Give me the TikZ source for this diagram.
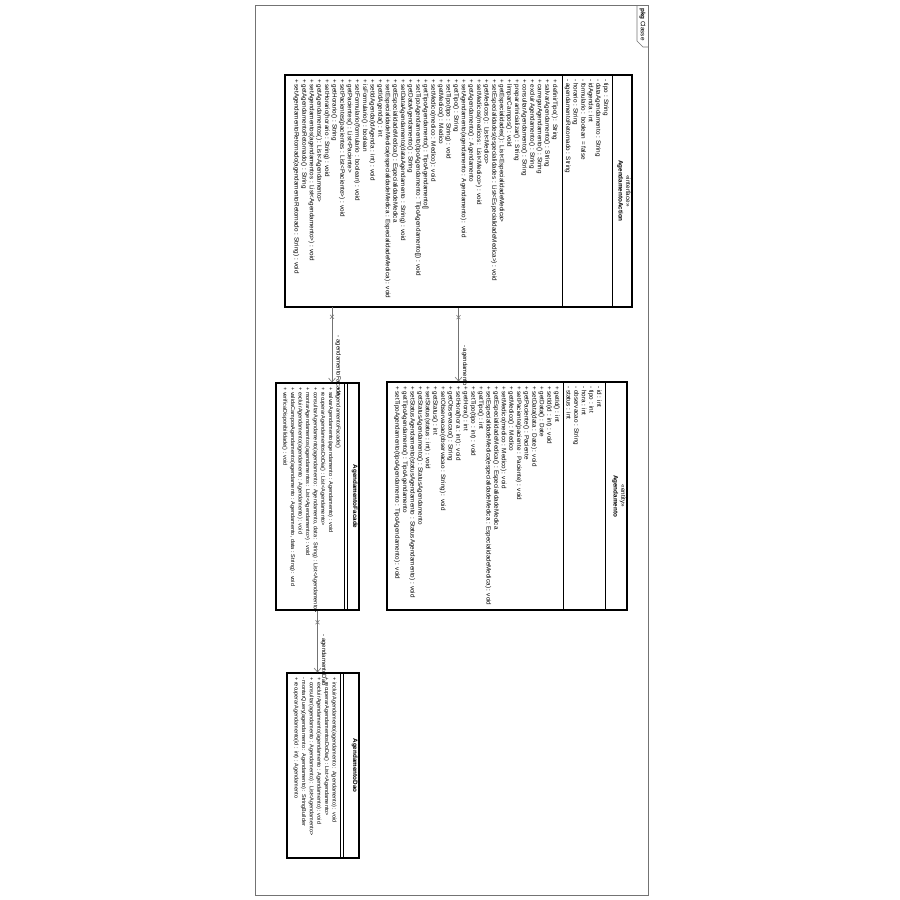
\documentclass[tikz,border=0pt]{standalone}
\usepackage{fontspec}
\setmainfont{Liberation Sans}
\usepackage{tikz}
\usetikzlibrary{positioning,arrows.meta,shapes.misc}
\tikzset{every picture/.style={line width=0.75pt}}
\tikzset{
  classbox/.style={draw, line width=1.1pt, inner sep=0pt},
  txt/.style={align=left, inner sep=1pt, anchor=north west, font=\fontsize{6.3}{7.6}\selectfont},
  txtsmall/.style={txt, font=\fontsize{5.5}{7.6}\selectfont},
  head/.style={align=center, inner sep=1.5pt, anchor=north, font=\fontsize{6.3}{7.6}\selectfont},
  assoc/.style={draw=black!55, line width=0.6pt, -{Straight Barb[length=4pt,width=7pt]}},
  xmark/.style={cross out, draw=black!55, line width=0.5pt, minimum size=3.5pt, inner sep=0pt},
  lbl/.style={anchor=south, inner sep=3pt, font=\fontsize{6}{7}\selectfont},
  frame/.style={draw=black!55, line width=0.6pt}
}

\begin{document}
\begin{tikzpicture}
\begin{scope}[x=1pt, y=1pt, rotate=-90, transform shape]
\useasboundingbox (0,0) rectangle (900,900);
% package frame
\draw[frame] (5,255) rectangle (895,648);
\draw[frame] (5,637) -- (41,637) -- (47,643) -- (47,648);
\node[anchor=west, inner sep=1pt, font=\fontsize{6.3}{7}\selectfont] (pkg) at (7,642.5) {\textbf{pkg} Classe};
%
\node[classbox, minimum width=232pt, minimum height=347pt] (action) at (191,458.5) {};
\node[classbox, minimum width=228pt, minimum height=240pt] (agendamento) at (496,507) {};
\node[classbox, minimum width=227pt, minimum height=83pt] (facade) at (496.5,317.5) {};
\node[classbox, minimum width=185pt, minimum height=72pt] (dao) at (765.5,323) {};
%
\foreach \Left/\Right/\Y in {75/307/612, 75/307/562, 382/610/605, 382/610/563,
    383/610/347, 383/610/344, 673/858/343, 673/858/340}
\draw (\Left,\Y) -- (\Right,\Y);
%
\node[head] (actiontitle) at (action.north) {«interface»\\\textbf{AgendamentoAction}};
\node[txt] (actionattr) at (78,610) {- tipo : String\\
- dataAgendamento : String\\
- idAgenda : int\\
- formulario : boolean = false\\
- horario : String\\
- agendamentoRetornado : String};
\node[txt] (actionops) at (78,559) {+ definirTipo() : String\\
+ salvarAgendamento() : String\\
+ carregarAgendamento() : String\\
+ excluirAgendamento() : String\\
+ consultarAgendamento() : String\\
+ prepararInicializar() : String\\
+ limparCampos() : void\\
+ getEspecialidades() : List<EspecialidadeMedica>\\
+ setEspecialidades(especialidades : List<EspecialidadeMedica>) : void\\
+ getMedicos() : List<Medico>\\
+ setMedicos(medicos : List<Medico>) : void\\
+ getAgendamento() : Agendamento\\
+ setAgendamento(agendamento : Agendamento) : void\\
+ getTipo() : String\\
+ setTipo(tipo : String) : void\\
+ getMedico() : Medico\\
+ setMedico(medico : Medico) : void\\
+ getTipoAgendamento() : TipoAgendamento[]\\
+ setTipoAgendamento(tipoAgendamento : TipoAgendamento[]) : void\\
+ getDataAgendamento() : String\\
+ setDataAgendamento(dataAgendamento : String) : void\\
+ getEspecialidadeMedica() : EspecialidadeMedica\\
+ setEspecialidadeMedica(especialidadeMedica : EspecialidadeMedica) : void\\
+ getIdAgenda() : int\\
+ setIdAgenda(idAgenda : int) : void\\
+ isFormulario() : boolean\\
+ setFormulario(formulario : boolean) : void\\
+ getPacientes() : List<Paciente>\\
+ setPacientes(pacientes : List<Paciente>) : void\\
+ getHorario() : String\\
+ setHorario(horario : String) : void\\
+ getAgendamentos() : List<Agendamento>\\
+ setAgendamentos(agendamentos : List<Agendamento>) : void\\
+ getAgendamentoRetornado() : String\\
+ setAgendamentoRetornado(agendamentoRetornado : String) : void};
%
\node[head] (agendamentotitle) at (agendamento.north) {«entity»\\\textbf{Agendamento}};
\node[txt] (agendamentoattr) at (385,603) {- id : int\\
- tipo : int\\
- hora : int\\
- observacao : String\\
- status : int};
\node[txt] (agendamentoops) at (385,561) {+ getId() : int\\
+ setId(id : int) : void\\
+ getData() : Date\\
+ setData(data : Date) : void\\
+ getPaciente() : Paciente\\
+ setPaciente(paciente : Paciente) : void\\
+ getMedico() : Medico\\
+ setMedico(medico : Medico) : void\\
+ getEspecialidadeMedica() : EspecialidadeMedica\\
+ setEspecialidadeMedica(especialidadeMedica : EspecialidadeMedica) : void\\
+ getTipo() : int\\
+ setTipo(tipo : int) : void\\
+ getHora() : int\\
+ setHora(hora : int) : void\\
+ getObservacao() : String\\
+ setObservacao(observacao : String) : void\\
+ getStatus() : int\\
+ setStatus(status : int) : void\\
+ getStatusAgendamento() : StatusAgendamento\\
+ setStatusAgendamento(statusAgendamento : StatusAgendamento) : void\\
+ getTipoAgendamento() : TipoAgendamento\\
+ setTipoAgendamento(tipoAgendamento : TipoAgendamento) : void};
%
\node[head] (facadetitle) at (facade.north) {\textbf{AgendamentoFacade}};
\node[txtsmall] (facadeops) at (386,342) {+ AgendamentoFacade()\\
+ salvarAgendamento(agendamento : Agendamento) : void\\
+ recuperarAgendamentosDoDia() : List<Agendamento>\\
+ consultarAgendamento(agendamento : Agendamento, data : String) : List<Agendamento>\\
+ montarAgendamentos(agendamentos : List<Agendamento>) : void\\
+ excluirAgendamento(agendamento : Agendamento) : void\\
+ validaCamposAgendamento(agendamento : Agendamento, data : String) : void\\
+ verificaDisponibilidade() : void};
%
\node[head] (daotitle) at (dao.north) {\textbf{AgendamentoDao}};
\node[txtsmall] (daoops) at (676,338) {+ incluirAgendamento(agendamento : Agendamento) : void\\
+ recuperarAgendamentosDoDia() : List<Agendamento>\\
+ excluirAgendamento(agendamento : Agendamento) : void\\
+ consultar(agendamento : Agendamento) : List<Agendamento>\\
- montarQuery(agendamento : Agendamento) : StringBuilder\\
+ recuperarAgendamento(id : int) : Agendamento};
%
\coordinate (facadeend) at (307,332);
\draw[assoc] (facadeend) -- (facadeend -| facade.west)
  node[xmark, pos=0.13] {} node[lbl, pos=0.78] {- agendamentoFacade};
\draw[assoc] (action.east) -- (action.east -| agendamento.west)
  node[xmark, pos=0.13] {} node[lbl, pos=0.78] {- agendamento};
\draw[assoc] (facade.east) -- (facade.east -| dao.west)
  node[xmark, pos=0.19] {} node[lbl, pos=0.8] {- agendamentoDao};
\end{scope}
\end{tikzpicture}
\end{document}
